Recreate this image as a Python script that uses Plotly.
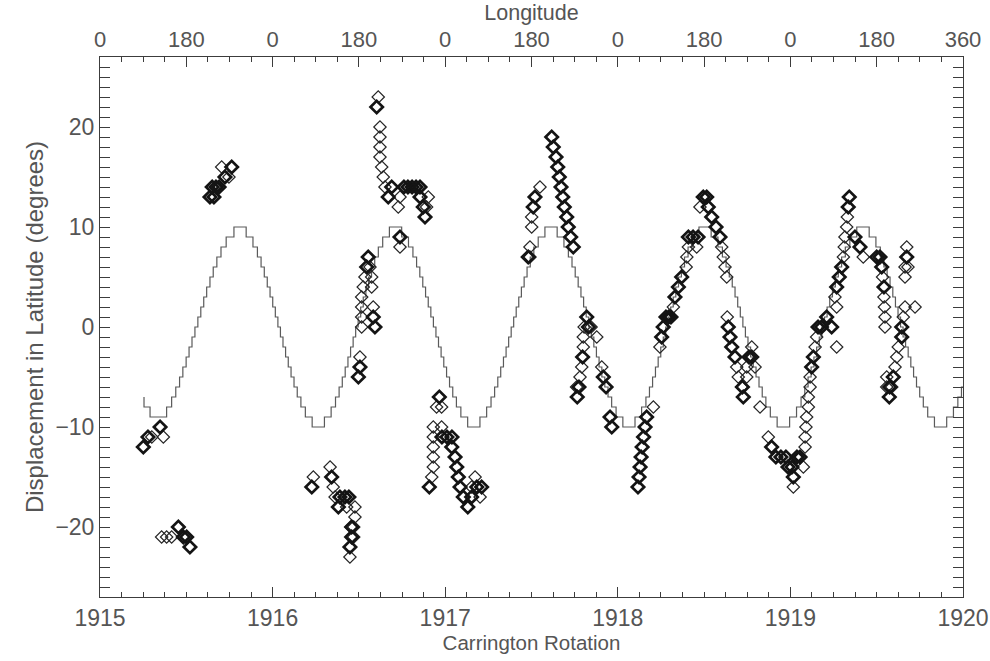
import plotly.graph_objects as go

# ---- tracked features: Carrington rotation and latitude displacement (deg) ----
# light outlines
thin_rot = [
    1915.300, 1915.367, 1915.357, 1915.386, 1915.415, 1915.705, 1915.747,
    1916.236, 1916.333, 1916.351, 1916.362, 1916.429, 1916.477, 1916.477, 1916.455,
    1916.470, 1916.470, 1916.448,
    1916.612, 1916.622, 1916.622, 1916.622, 1916.622, 1916.632, 1916.641, 1916.651,
    1916.738, 1916.728, 1916.902, 1916.892, 1916.738,
    1916.564, 1916.535, 1916.574, 1916.525, 1916.574, 1916.516, 1916.516, 1916.583,
    1916.516, 1916.516, 1916.506,
    1916.950, 1916.979, 1916.931, 1916.979, 1916.931, 1916.931, 1916.931, 1916.931,
    1916.922, 1917.173, 1917.153, 1917.202,
    1917.549, 1917.501, 1917.501, 1917.491, 1917.491,
    1917.805, 1917.845, 1917.878, 1917.800, 1917.800, 1917.791, 1917.781, 1917.761,
    1917.907,
    1918.206, 1918.244, 1918.322, 1918.396, 1918.400, 1918.409, 1918.457, 1918.476,
    1918.602, 1918.611, 1918.621, 1918.631,
    1918.634, 1918.689, 1918.698, 1918.718, 1918.776, 1918.747, 1918.795, 1918.747,
    1918.824, 1918.872, 1919.075, 1919.017, 1919.085,
    1919.085, 1919.090, 1919.094, 1919.104, 1919.104, 1919.114, 1919.114, 1919.143,
    1919.152, 1919.268, 1919.268, 1919.258, 1919.307, 1919.312, 1919.316, 1919.326,
    1919.330, 1919.422, 1919.534, 1919.542, 1919.545, 1919.548, 1919.548, 1919.558,
    1919.558, 1919.664, 1919.722, 1919.654, 1919.625, 1919.616, 1919.606, 1919.587,
    1919.674, 1919.664, 1919.681, 1919.664,
]
thin_lat = [
    -11, -11, -21, -21, -21, 16, 15,
    -15, -14, -16, -17, -18, -18, -19, -20,
    -20, -21, -23,
    23, 20, 19, 18, 17, 16, 15, 14,
    13, 12, 13, 12, 8,
    6, 5, 5, 4, 4, 3, 2, 2,
    1, 0, -3,
    -8, -8, -10, -10, -11, -12, -13, -14,
    -15, -15, -16, -17,
    14, 11, 10, 8, 7,
    0, 0, -1, -1, -2, -4, -5, -6,
    -4,
    -8, -2, 2, 6, 7, 8, 8, 12,
    8, 7, 6, 5,
    1, -4, -5, -6, -2, -4, -4, -5,
    -8, -11, -14, -16, -12,
    -11, -10, -9, -8, -7, -6, -5, -2,
    -1, -2, 2, 3, 7, 8, 9, 10,
    11, 7, 5, 3, 2, 1, 0, -5,
    -6, 2, 2, 1, -2, -3, -4, -6,
    8, 6, 6, 5,
]

# heavy outlines
bold_rot = [
    1915.251, 1915.278, 1915.348,
    1915.454, 1915.483, 1915.502, 1915.521,
    1915.637, 1915.660, 1915.650, 1915.672, 1915.690, 1915.724, 1915.763,
    1916.227, 1916.342, 1916.390, 1916.419, 1916.442, 1916.381, 1916.458, 1916.448,
    1916.458,
    1916.603, 1916.690, 1916.670, 1916.761, 1916.784, 1916.808, 1916.831, 1916.854,
    1916.854, 1916.873, 1916.883, 1916.738,
    1916.554, 1916.545, 1916.583, 1916.593, 1916.506, 1916.497,
    1916.966, 1916.981, 1917.010, 1917.039, 1916.908, 1917.038, 1917.057, 1917.067,
    1917.076, 1917.086, 1917.105, 1917.131, 1917.183, 1917.211, 1917.153,
    1917.520, 1917.510, 1917.481,
    1917.617, 1917.626, 1917.642, 1917.652, 1917.661, 1917.671, 1917.681, 1917.690,
    1917.704, 1917.713, 1917.727, 1917.742,
    1917.820, 1917.830, 1917.796, 1917.775, 1917.765, 1917.916, 1917.932, 1917.955,
    1917.965,
    1918.167, 1918.158, 1918.149, 1918.141, 1918.135, 1918.129, 1918.123, 1918.117,
    1918.254, 1918.263, 1918.279, 1918.295, 1918.308, 1918.331, 1918.351, 1918.370,
    1918.409, 1918.436, 1918.465, 1918.495, 1918.515, 1918.524, 1918.544, 1918.569,
    1918.592,
    1918.640, 1918.650, 1918.660, 1918.679, 1918.722, 1918.727, 1918.760, 1918.776,
    1918.891, 1918.916, 1918.945, 1918.974, 1919.038, 1919.056, 1918.986, 1919.009,
    1919.017,
    1919.123, 1919.133, 1919.160, 1919.180, 1919.239, 1919.210, 1919.268, 1919.283,
    1919.297, 1919.335, 1919.341, 1919.374, 1919.403, 1919.500, 1919.519, 1919.529,
    1919.542, 1919.575, 1919.573, 1919.645, 1919.645, 1919.596, 1919.674,
]
bold_lat = [
    -12, -11, -10,
    -20, -21, -21, -22,
    13, 13, 14, 14, 14, 15, 16,
    -16, -15, -17, -17, -17, -18, -21, -22,
    -20,
    22, 14, 13, 14, 14, 14, 14, 14,
    13, 12, 11, 9,
    7, 6, 1, 0, -4, -5,
    -7, -11, -11, -11, -16, -12, -13, -14,
    -15, -16, -17, -18, -16, -16, -17,
    13, 12, 7,
    19, 18, 17, 16, 15, 14, 13, 12,
    11, 10, 9, 8,
    1, 0, -3, -6, -7, -5, -6, -9,
    -10,
    -9, -10, -11, -12, -13, -14, -15, -16,
    -1, 0, 1, 1, 1, 3, 4, 5,
    9, 9, 9, 13, 13, 12, 11, 10,
    9,
    0, -1, -2, -3, -6, -7, -3, -3,
    -12, -13, -13, -13, -13, -13, -14, -14,
    -15,
    -4, -3, 0, 0, 0, 1, 4, 5,
    6, 12, 13, 9, 8, 7, 7, 6,
    4, -6, -7, 0, -1, -5, 7,
]

# ---- model latitude (whole degrees), drawn as a staircase ----
# opening stretch before the first crest: (rotation, level) at each step
lead_rot = [1915.255, 1915.255, 1915.290, 1915.386, 1915.415, 1915.439, 1915.461,
            1915.480, 1915.499, 1915.516, 1915.533, 1915.550, 1915.567, 1915.584,
            1915.601, 1915.618, 1915.637, 1915.656, 1915.677, 1915.701, 1915.731,
            1915.776]
lead_lat = [-7, -8, -9, -8, -7, -6, -5, -4, -3, -2, -1, 0, 1, 2, 3, 4, 5, 6, 7,
            8, 9, 10]
# successive crests and troughs
crest_rot = [1915.811, 1916.265, 1916.712, 1917.166, 1917.613, 1918.065,
             1918.505, 1918.959, 1919.421, 1919.870, 1920.320]
crest_lat = [10, -10, 10, -10, 10, -10, 10, -10, 10, -10, 10]
# where each one-degree step falls between a crest and the next trough
step_frac = [0.0789, 0.1658, 0.2226, 0.2692, 0.3103, 0.3482, 0.3838, 0.4179,
             0.4511, 0.4838, 0.5162, 0.5489, 0.5821, 0.6162, 0.6518, 0.6897,
             0.7308, 0.7774, 0.8342, 0.9211]

model_x = list(lead_rot)
model_y = list(lead_lat)
for (r0, l0), (r1, l1) in zip(zip(crest_rot[:-1], crest_lat[:-1]),
                              zip(crest_rot[1:], crest_lat[1:])):
    sign = 1 if l1 > l0 else -1
    for k, f in enumerate(step_frac):
        model_x.append(r0 + f * (r1 - r0))
        model_y.append(l0 + sign * (k + 1))

# ---- axis labelling ----
rot_ticks = [1915, 1916, 1917, 1918, 1919, 1920]
lon_tickvals = [1915.0, 1915.5, 1916.0, 1916.5, 1917.0, 1917.5, 1918.0,
                1918.5, 1919.0, 1919.5, 1920.0]
lon_ticktext = ["0", "180", "0", "180", "0", "180", "0", "180", "0", "180", "360"]
lat_ticks = [-20, -10, 0, 10, 20]

FONT = "Liberation Sans"
INK = "#555555"
AX = "#3c3c3c"

fig = go.Figure()

fig.add_trace(go.Scatter(
    x=model_x, y=model_y, mode="lines",
    line=dict(shape="hv", color="#5a5a5a", width=1.2),
    hoverinfo="skip", showlegend=False))

fig.add_trace(go.Scatter(
    x=thin_rot, y=thin_lat, mode="markers",
    marker=dict(symbol="diamond-open", size=9.5, color="#262626",
                line=dict(width=1.2, color="#262626")),
    showlegend=False))

fig.add_trace(go.Scatter(
    x=bold_rot, y=bold_lat, mode="markers",
    marker=dict(symbol="diamond-open", size=9.5, color="#141414",
                line=dict(width=2.7, color="#141414")),
    showlegend=False))

# carrier for the longitude axis along the top
fig.add_trace(go.Scatter(
    x=[rot_ticks[0], rot_ticks[-1]], y=[0, 0], xaxis="x2", mode="markers",
    marker=dict(opacity=0), hoverinfo="skip", showlegend=False))

fig.update_layout(
    width=990, height=661,
    margin=dict(l=100, r=27, t=57, b=64),
    paper_bgcolor="white", plot_bgcolor="white",
    font=dict(family=FONT, color=INK),
    xaxis=dict(
        range=[1915, 1920], tickvals=rot_ticks,
        ticktext=[str(v) for v in rot_ticks],
        ticks="inside", ticklen=10, tickcolor=AX, tickwidth=1,
        minor=dict(ticks="inside", ticklen=5, tick0=1915, dtick=0.125,
                   tickcolor=AX, tickwidth=1),
        showline=True, linecolor=AX, linewidth=1, mirror=False,
        showgrid=False, zeroline=False,
        tickfont=dict(size=23, color=INK, family=FONT),
        title=dict(text="Carrington Rotation", standoff=6,
                   font=dict(size=20.5, color=INK, family=FONT)),
        automargin=False,
    ),
    xaxis2=dict(
        overlaying="x", side="top", anchor="y",
        range=[1915, 1920], tickvals=lon_tickvals, ticktext=lon_ticktext,
        ticks="inside", ticklen=10, tickcolor=AX, tickwidth=1,
        minor=dict(ticks="inside", ticklen=5, tick0=1915, dtick=0.125,
                   tickcolor=AX, tickwidth=1),
        showline=True, linecolor=AX, linewidth=1,
        showgrid=False, zeroline=False,
        tickfont=dict(size=22, color=INK, family=FONT),
        title=dict(text="Longitude", standoff=0,
                   font=dict(size=21.5, color=INK, family=FONT)),
        automargin=False,
    ),
    yaxis=dict(
        range=[-27, 27], tickvals=lat_ticks,
        ticks="inside", ticklen=10, tickcolor=AX, tickwidth=1,
        minor=dict(ticks="inside", ticklen=5, tick0=0, dtick=1,
                   tickcolor=AX, tickwidth=1),
        showline=True, linecolor=AX, linewidth=1, mirror="allticks",
        showgrid=False, zeroline=False,
        tickfont=dict(size=23, color=INK, family=FONT),
        title=dict(text="Displacement in Latitude (degrees)", standoff=4,
                   font=dict(size=24, color=INK, family=FONT)),
        automargin=False,
    ),
)

fig.write_html("out.html")
